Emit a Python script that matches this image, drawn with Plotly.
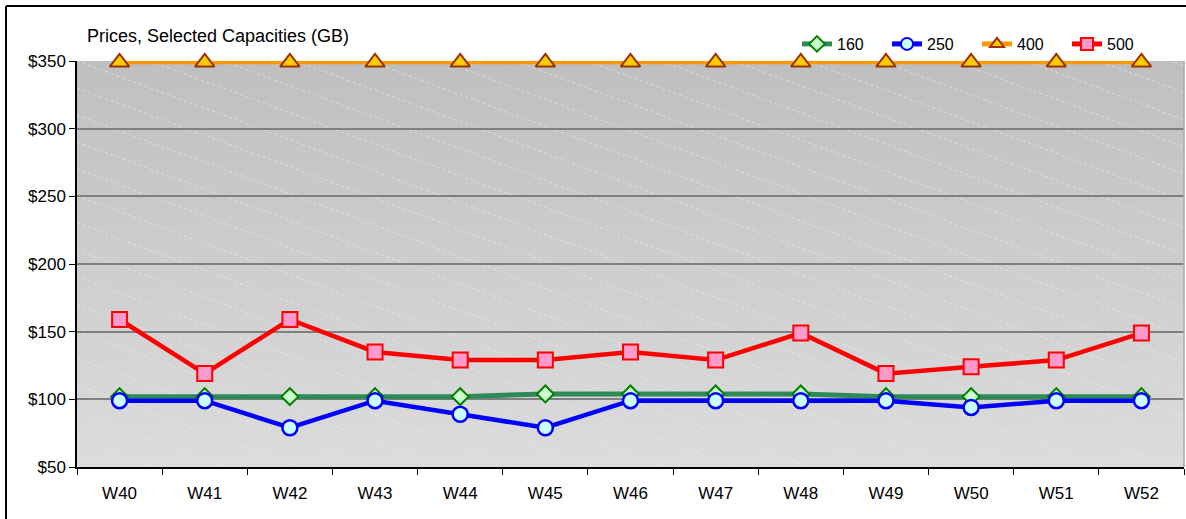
import base64
import plotly.graph_objects as go

weeks = ["W40", "W41", "W42", "W43", "W44", "W45", "W46", "W47", "W48", "W49", "W50", "W51", "W52"]
cap_160 = [102, 102, 102, 102, 102, 104, 104, 104, 104, 102, 102, 102, 102]
cap_250 = [99, 99, 79, 99, 89, 79, 99, 99, 99, 99, 94, 99, 99]
cap_400 = [349, 349, 349, 349, 349, 349, 349, 349, 349, 349, 349, 349, 349]
cap_500 = [159, 119, 159, 135, 129, 129, 135, 129, 149, 119, 124, 129, 149]

W, H = 1186, 519
ML, MR, MT, MB = 77, 2, 61, 52
PW, PH = W - ML - MR, H - MT - MB

# background: vertical gradient with faint dashed diagonal lines (decoration)
parts = [f'<svg xmlns="http://www.w3.org/2000/svg" width="{PW}" height="{PH}" viewBox="0 0 {PW} {PH}" preserveAspectRatio="none">',
         '<defs><linearGradient id="g" x1="0" y1="0" x2="0" y2="1">'
         '<stop offset="0" stop-color="#bfbfbf"/><stop offset="1" stop-color="#dcdcdc"/></linearGradient></defs>',
         f'<rect x="0" y="0" width="{PW}" height="{PH}" fill="url(#g)"/>']
slope = 0.37
for k in range(-30, 20):
    y0 = k * 27
    parts.append(f'<line x1="0" y1="{y0}" x2="{PW}" y2="{y0 + slope * PW:.1f}" stroke="#eeeeee" '
                 f'stroke-width="1" stroke-dasharray="3,3" stroke-opacity="0.6"/>')
parts.append('</svg>')
svg = "".join(parts)
uri = "data:image/svg+xml;base64," + base64.b64encode(svg.encode()).decode()

FONT = "Liberation Sans, Arial, sans-serif"

fig = go.Figure()
fig.add_trace(go.Scatter(x=weeks, y=cap_160, name="160", mode="lines+markers", cliponaxis=False,
                         line=dict(color="#2E8B57", width=5),
                         marker=dict(symbol="diamond", size=13, color="#CCFFCC",
                                     line=dict(color="#008000", width=2))))
fig.add_trace(go.Scatter(x=weeks, y=cap_250, name="250", mode="lines+markers", cliponaxis=False,
                         line=dict(color="#0000FF", width=4.5),
                         marker=dict(symbol="circle", size=15, color="#CCFFFF",
                                     line=dict(color="#0000FF", width=2.5))))
fig.add_trace(go.Scatter(x=weeks, y=cap_400, name="400", mode="lines+markers", cliponaxis=False,
                         line=dict(color="#FF9900", width=4),
                         marker=dict(symbol="triangle-up", size=17, color="#FFCC00",
                                     line=dict(color="#993300", width=2))))
fig.add_trace(go.Scatter(x=weeks, y=cap_500, name="500", mode="lines+markers", cliponaxis=False,
                         line=dict(color="#FF0000", width=4.5),
                         marker=dict(symbol="square", size=15, color="#FF99CC",
                                     line=dict(color="#FF0000", width=2))))

fig.update_layout(
    width=W, height=H,
    margin=dict(l=ML, r=MR, t=MT, b=MB),
    paper_bgcolor="white",
    plot_bgcolor="#d0d0d0",
    font=dict(family=FONT, size=17, color="black"),
    showlegend=True,
    legend=dict(orientation="h", x=(1157 - ML) / PW, xanchor="right",
                y=(H - MB - 44) / PH, yanchor="middle",
                font=dict(size=16), bgcolor="rgba(0,0,0,0)", itemsizing="constant",
                entrywidth=45, entrywidthmode="pixels", tracegroupgap=0),
    images=[dict(source=uri, xref="paper", yref="paper", x=0, y=1, sizex=1, sizey=1,
                 sizing="stretch", layer="below", xanchor="left", yanchor="top")],
    annotations=[dict(text="Prices, Selected Capacities (GB)", xref="paper", yref="paper",
                      x=(85 - ML) / PW, y=(H - MB - 36) / PH, xanchor="left", yanchor="middle",
                      showarrow=False, font=dict(size=18))],
    shapes=[
        dict(type="line", xref="paper", yref="paper",
             x0=(6 - ML) / PW, x1=1.2, y0=(H - MB - 6) / PH, y1=(H - MB - 6) / PH,
             line=dict(color="black", width=2)),
        dict(type="line", xref="paper", yref="paper",
             x0=(6 - ML) / PW, x1=(6 - ML) / PW, y0=(H - MB - 6) / PH, y1=-0.3,
             line=dict(color="black", width=2)),
        dict(type="line", xref="paper", yref="paper", x0=1, x1=1, y0=0, y1=1,
             line=dict(color="#a8a8a8", width=1.5)),
    ],
)

fig.update_xaxes(type="category", range=[-0.5, len(weeks) - 0.5],
                 showline=True, linecolor="black", linewidth=1.5,
                 ticks="outside", ticklen=6, tickcolor="black", tickson="boundaries",
                 showgrid=False, tickfont=dict(size=17), ticklabelstandoff=10, fixedrange=True)
fig.update_yaxes(range=[50, 350], dtick=50, tickprefix="$",
                 showline=True, linecolor="black", linewidth=1.5,
                 ticks="outside", ticklen=6, tickcolor="black",
                 showgrid=True, gridcolor="#808080", gridwidth=2, zeroline=False,
                 tickfont=dict(size=17), fixedrange=True)

fig.write_html("out.html", config={"displayModeBar": False},
               post_script="document.body.style.margin='0';document.body.style.overflow='hidden';")
